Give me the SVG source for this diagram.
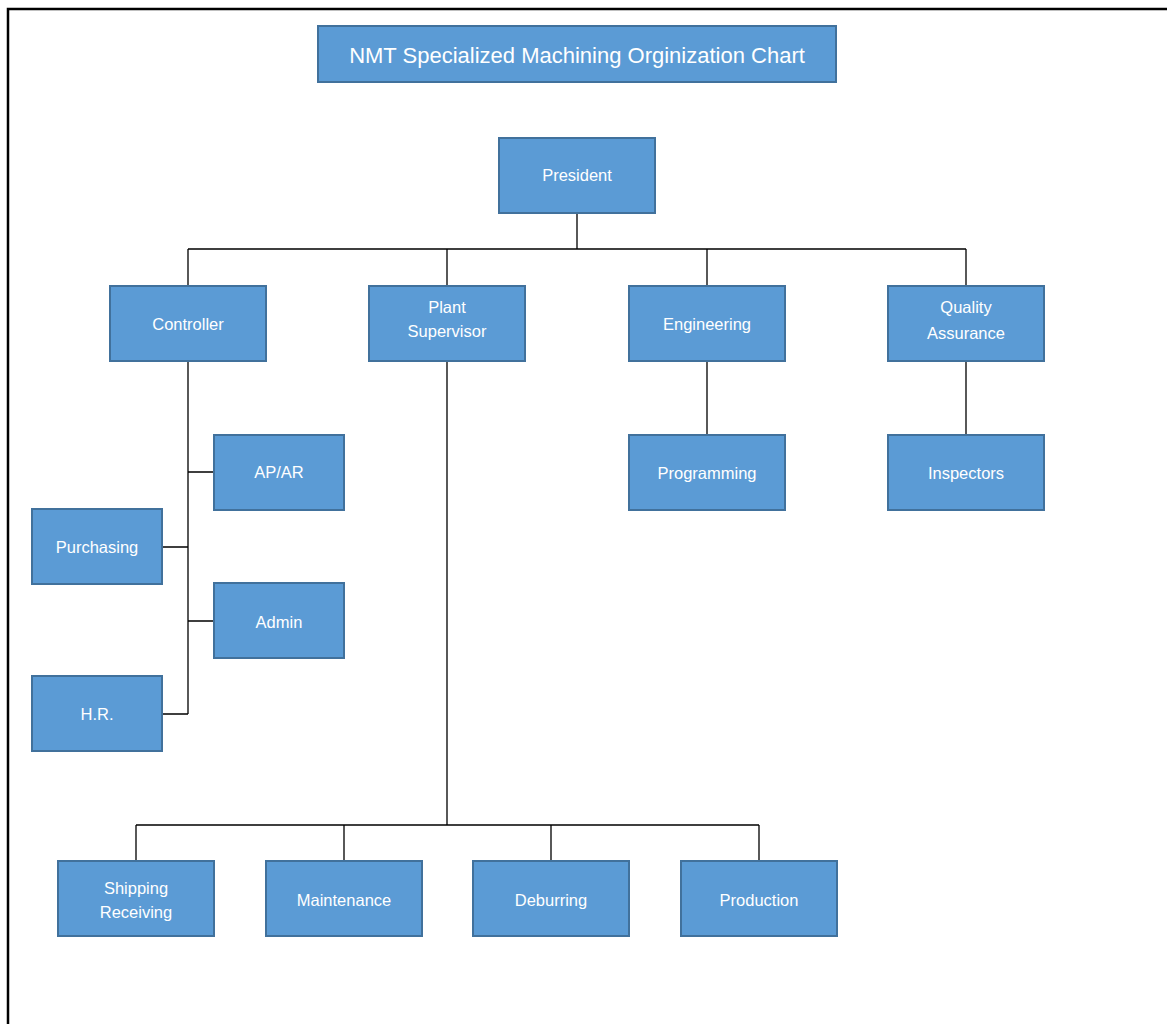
<svg xmlns="http://www.w3.org/2000/svg" width="1167" height="1024" viewBox="0 0 1167 1024">
<style>
.box{fill:#5B9BD5;stroke:#41719C;stroke-width:2}
.t{font-family:"Liberation Sans",Arial,sans-serif;font-size:16.5px;fill:#ffffff;text-anchor:middle}
.title{font-size:22px}
.c{stroke:#000;stroke-width:1.3;fill:none}
</style>
<rect width="1167" height="1024" fill="#fff"/>
<path d="M8 1024 V9 H1167" fill="none" stroke="#000" stroke-width="2.5"/>
<g id="connectors">
<path class="c" d="M577 213 V249 M188 249 H966 M188 249 V286 M447 249 V286 M707 249 V286 M966 249 V286"/>
<path class="c" d="M188 361 V714 M188 472 H214 M162 547 H188 M188 621 H214 M162 714 H188"/>
<path class="c" d="M447 361 V825 M136 825 H759 M136 825 V861 M344 825 V861 M551 825 V861 M759 825 V861"/>
<path class="c" d="M707 361 V435 M966 361 V435"/>
</g>
<g id="title"><rect class="box" x="318" y="26" width="518" height="56"/><text class="t title" x="577" y="63">NMT Specialized  Machining  Orginization  Chart</text></g>
<g id="president"><rect class="box" x="499" y="138" width="156" height="75"/><text class="t" x="577" y="181">President</text></g>
<g id="controller"><rect class="box" x="110" y="286" width="156" height="75"/><text class="t" x="188" y="330">Controller</text></g>
<g id="plant-supervisor"><rect class="box" x="369" y="286" width="156" height="75"/><text class="t" x="447" y="313">Plant</text><text class="t" x="447" y="337">Supervisor</text></g>
<g id="engineering"><rect class="box" x="629" y="286" width="156" height="75"/><text class="t" x="707" y="330">Engineering</text></g>
<g id="quality-assurance"><rect class="box" x="888" y="286" width="156" height="75"/><text class="t" x="966" y="313">Quality</text><text class="t" x="966" y="339">Assurance</text></g>
<g id="programming"><rect class="box" x="629" y="435" width="156" height="75"/><text class="t" x="707" y="479">Programming</text></g>
<g id="inspectors"><rect class="box" x="888" y="435" width="156" height="75"/><text class="t" x="966" y="479">Inspectors</text></g>
<g id="apar"><rect class="box" x="214" y="435" width="130" height="75"/><text class="t" x="279" y="478">AP/AR</text></g>
<g id="purchasing"><rect class="box" x="32" y="509" width="130" height="75"/><text class="t" x="97" y="553">Purchasing</text></g>
<g id="admin"><rect class="box" x="214" y="583" width="130" height="75"/><text class="t" x="279" y="628">Admin</text></g>
<g id="hr"><rect class="box" x="32" y="676" width="130" height="75"/><text class="t" x="97" y="720">H.R.</text></g>
<g id="shipping-receiving"><rect class="box" x="58" y="861" width="156" height="75"/><text class="t" x="136" y="894">Shipping</text><text class="t" x="136" y="918">Receiving</text></g>
<g id="maintenance"><rect class="box" x="266" y="861" width="156" height="75"/><text class="t" x="344" y="906">Maintenance</text></g>
<g id="deburring"><rect class="box" x="473" y="861" width="156" height="75"/><text class="t" x="551" y="906">Deburring</text></g>
<g id="production"><rect class="box" x="681" y="861" width="156" height="75"/><text class="t" x="759" y="906">Production</text></g>
</svg>
